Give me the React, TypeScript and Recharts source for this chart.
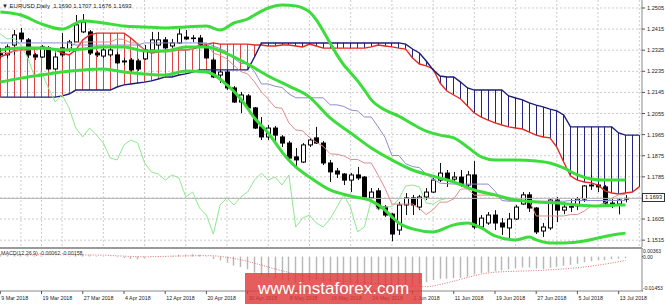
import React from 'react';
import { ComposedChart, Bar, Line, XAxis, YAxis, CartesianGrid, ReferenceLine } from 'recharts';

// ---------- tick labels ----------
const dateIdx = [0, 6, 12, 18, 24, 30, 36, 42, 48, 54, 60, 66, 72, 78, 84, 90];
const dateLabels = ['9 Mar 2018', '19 Mar 2018', '27 Mar 2018', '4 Apr 2018', '12 Apr 2018', '20 Apr 2018', '30 Apr 2018', '8 May 2018', '16 May 2018', '24 May 2018', '1 Jun 2018', '11 Jun 2018', '19 Jun 2018', '27 Jun 2018', '5 Jul 2018', '13 Jul 2018'];
const priceTicks = [1.2505, 1.2415, 1.2325, 1.2235, 1.2145, 1.2055, 1.1965, 1.1875, 1.1785, 1.1695, 1.1605, 1.1515];
const gridIdx = [0, 3, 6, 9, 12, 15, 18, 21, 24, 27, 30, 33, 36, 39, 42, 45, 48, 51, 54, 57, 60, 63, 66, 69, 72, 75, 78, 81, 84, 87, 90, 93];
const bidPrice = 1.1693;
const macdAxisVals = [0.00363, 0, -0.01453];
const macdAxisLabels = ['0.00363', '0.00', '-0.01453'];

// ---------- candles (EURUSD daily) ----------
const openP = [1.2310,1.2305,1.2347,1.2398,1.2369,1.2305,1.2296,1.2335,1.2245,1.2335,
 1.2326,1.2360,1.2403,1.2403,1.2313,1.2300,1.2305,1.2305,1.2279,1.2283,
 1.2279,1.2288,1.2326,1.2347,1.2369,1.2343,1.2356,1.2381,1.2377,1.2377,
 1.2343,1.2283,1.2219,1.2232,1.2164,1.2104,1.2130,1.2079,1.1998,1.1955,
 1.1993,1.1955,1.1929,1.1870,1.1848,1.1921,1.1951,1.1929,1.1844,1.1810,
 1.1797,1.1771,1.1793,1.1784,1.1695,1.1725,1.1656,1.1626,1.1558,1.1665,
 1.1695,1.1656,1.1699,1.1720,1.1771,1.1801,1.1775,1.1784,1.1750,1.1793,
 1.1571,1.1588,1.1622,1.1588,1.1567,1.1605,1.1669,1.1708,1.1652,1.1554,
 1.1567,1.1686,1.1643,1.1656,1.1661,1.1690,1.1746,1.1750,1.1742,1.1673,
 1.1669,1.1690];
const highP = [1.2335,1.2350,1.2411,1.2420,1.2377,1.2313,1.2347,1.2343,1.2313,1.2398,
 1.2369,1.2475,1.2479,1.2411,1.2322,1.2335,1.2335,1.2317,1.2292,1.2292,
 1.2288,1.2347,1.2403,1.2403,1.2381,1.2373,1.2420,1.2411,1.2390,1.2390,
 1.2352,1.2292,1.2241,1.2241,1.2172,1.2147,1.2138,1.2083,1.2040,1.2006,
 1.2002,1.1963,1.1938,1.1908,1.1929,1.1951,1.1998,1.1938,1.1857,1.1823,
 1.1801,1.1801,1.1827,1.1788,1.1737,1.1737,1.1665,1.1631,1.1678,1.1716,
 1.1708,1.1708,1.1737,1.1780,1.1844,1.1814,1.1806,1.1814,1.1810,1.1852,
 1.1622,1.1635,1.1643,1.1609,1.1631,1.1665,1.1720,1.1720,1.1656,1.1588,
 1.1690,1.1699,1.1678,1.1690,1.1699,1.1750,1.1793,1.1759,1.1750,1.1690,
 1.1695,1.1707];
const lowP = [1.2290,1.2290,1.2305,1.2360,1.2292,1.2283,1.2292,1.2240,1.2241,1.2296,
 1.2317,1.2356,1.2398,1.2305,1.2296,1.2292,1.2296,1.2266,1.2262,1.2232,
 1.2236,1.2283,1.2322,1.2326,1.2330,1.2335,1.2352,1.2369,1.2360,1.2343,
 1.2288,1.2206,1.2185,1.2155,1.2100,1.2057,1.2070,1.1989,1.1942,1.1942,
 1.1921,1.1912,1.1857,1.1823,1.1844,1.1912,1.1925,1.1835,1.1763,1.1780,
 1.1750,1.1720,1.1771,1.1690,1.1690,1.1643,1.1614,1.1510,1.1537,1.1622,
 1.1622,1.1643,1.1686,1.1716,1.1763,1.1742,1.1767,1.1742,1.1737,1.1562,
 1.1562,1.1580,1.1558,1.1537,1.1516,1.1601,1.1665,1.1635,1.1541,1.1528,
 1.1558,1.1592,1.1626,1.1635,1.1643,1.1678,1.1729,1.1720,1.1665,1.1652,
 1.1625,1.1676];
const closeP = [1.2305,1.2339,1.2390,1.2373,1.2305,1.2296,1.2339,1.2245,1.2296,1.2305,
 1.2360,1.2433,1.2445,1.2313,1.2305,1.2326,1.2326,1.2271,1.2275,1.2241,
 1.2245,1.2326,1.2369,1.2369,1.2335,1.2356,1.2394,1.2373,1.2375,1.2347,
 1.2292,1.2211,1.2232,1.2164,1.2104,1.2134,1.2079,1.1993,1.1955,1.1993,
 1.1963,1.1929,1.1865,1.1857,1.1921,1.1942,1.1929,1.1844,1.1806,1.1797,
 1.1771,1.1793,1.1780,1.1699,1.1720,1.1652,1.1622,1.1541,1.1665,1.1695,
 1.1665,1.1699,1.1720,1.1771,1.1801,1.1771,1.1784,1.1750,1.1793,1.1571,
 1.1609,1.1622,1.1588,1.1571,1.1605,1.1656,1.1708,1.1652,1.1550,1.1571,
 1.1686,1.1643,1.1656,1.1658,1.1690,1.1746,1.1750,1.1742,1.1673,1.1669,
 1.1686,1.1693];

// ---------- Ichimoku ----------
const tenkan = [1.2315,1.2315,1.2320,1.2325,1.2325,1.2330,1.2330,1.2330,1.2330,1.2330,
 1.2330,1.2358,1.2360,1.2360,1.2360,1.2360,1.2360,1.2373,1.2371,1.2356,
 1.2356,1.2322,1.2318,1.2318,1.2318,1.2318,1.2326,1.2326,1.2328,1.2352,
 1.2354,1.2313,1.2303,1.2288,1.2260,1.2234,1.2224,1.2190,1.2147,1.2117,
 1.2081,1.2077,1.2015,1.1985,1.1981,1.1953,1.1932,1.1915,1.1883,1.1881,
 1.1874,1.1859,1.1859,1.1844,1.1844,1.1791,1.1736,1.1669,1.1669,1.1669,
 1.1669,1.1649,1.1624,1.1645,1.1677,1.1677,1.1691,1.1733,1.1733,1.1707,
 1.1707,1.1707,1.1705,1.1695,1.1684,1.1684,1.1684,1.1684,1.1618,1.1618,
 1.1618,1.1618,1.1618,1.1624,1.1624,1.1639,1.1661,1.1661,1.1676,1.1693,
 1.1709,1.1709];
const kijun = [1.2356,1.2356,1.2356,1.2356,1.2356,1.2356,1.2356,1.2356,1.2356,1.2356,
 1.2356,1.2347,1.2347,1.2347,1.2347,1.2347,1.2347,1.2347,1.2347,1.2347,
 1.2347,1.2356,1.2356,1.2356,1.2356,1.2356,1.2356,1.2356,1.2356,1.2356,
 1.2356,1.2343,1.2332,1.2317,1.2290,1.2268,1.2268,1.2234,1.2181,1.2181,
 1.2171,1.2166,1.2139,1.2122,1.2122,1.2122,1.2122,1.2122,1.2092,1.2092,
 1.2085,1.2070,1.2066,1.2040,1.2040,1.1998,1.1953,1.1876,1.1876,1.1841,
 1.1829,1.1824,1.1797,1.1775,1.1758,1.1756,1.1754,1.1754,1.1754,1.1754,
 1.1754,1.1754,1.1724,1.1684,1.1681,1.1681,1.1681,1.1681,1.1681,1.1681,
 1.1681,1.1681,1.1681,1.1684,1.1684,1.1684,1.1684,1.1684,1.1684,1.1684,
 1.1684,1.1684];
const chikou = [1.2394,1.2373,1.2375,1.2347,1.2292,1.2211,1.2232,1.2164,1.2104,1.2134,
 1.2079,1.1993,1.1955,1.1993,1.1963,1.1929,1.1865,1.1857,1.1921,1.1942,
 1.1929,1.1844,1.1806,1.1797,1.1771,1.1793,1.1780,1.1699,1.1720,1.1652,
 1.1622,1.1541,1.1665,1.1695,1.1665,1.1699,1.1720,1.1771,1.1801,1.1771,
 1.1784,1.1750,1.1793,1.1571,1.1609,1.1622,1.1588,1.1571,1.1605,1.1656,
 1.1708,1.1652,1.1550,1.1571,1.1686,1.1643,1.1656,1.1658,1.1690,1.1746,
 1.1750,1.1742,1.1673,1.1669,1.1686,1.1693];
const spanA = [1.2296,1.2309,1.2322,1.2326,1.2330,1.2330,1.2334,1.2334,1.2326,1.2313,
 1.2305,1.2326,1.2369,1.2390,1.2398,1.2398,1.2398,1.2398,1.2398,1.2377,
 1.2351,1.2326,1.2313,1.2317,1.2326,1.2326,1.2326,1.2326,1.2330,1.2339,
 1.2351,1.2356,1.2351,1.2351,1.2351,1.2351,1.2351,1.2347,1.2347,1.2343,
 1.2343,1.2347,1.2347,1.2343,1.2339,1.2351,1.2343,1.2334,1.2334,1.2334,
 1.2334,1.2334,1.2334,1.2334,1.2339,1.2347,1.2343,1.2339,1.2334,1.2330,
 1.2292,1.2266,1.2258,1.2245,1.2185,1.2151,1.2134,1.2117,1.2087,1.2057,
 1.2040,1.2027,1.2015,1.2006,1.1998,1.1993,1.1989,1.1976,1.1963,1.1955,
 1.1951,1.1912,1.1848,1.1788,1.1771,1.1763,1.1759,1.1750,1.1725,1.1716,
 1.1712,1.1716,1.1720,1.1742];
const spanB = [1.2125,1.2125,1.2125,1.2125,1.2125,1.2125,1.2125,1.2125,1.2125,1.2130,
 1.2138,1.2155,1.2155,1.2155,1.2155,1.2155,1.2155,1.2168,1.2177,1.2181,
 1.2185,1.2189,1.2194,1.2202,1.2211,1.2211,1.2219,1.2224,1.2232,1.2241,
 1.2241,1.2241,1.2241,1.2241,1.2241,1.2241,1.2241,1.2296,1.2356,1.2356,
 1.2356,1.2356,1.2356,1.2356,1.2356,1.2356,1.2356,1.2356,1.2356,1.2356,
 1.2356,1.2356,1.2356,1.2356,1.2356,1.2356,1.2356,1.2356,1.2356,1.2351,
 1.2330,1.2313,1.2279,1.2241,1.2215,1.2211,1.2211,1.2189,1.2164,1.2155,
 1.2155,1.2155,1.2155,1.2155,1.2130,1.2121,1.2113,1.2100,1.2091,1.2083,
 1.2074,1.2066,1.2049,1.1998,1.1998,1.1998,1.1998,1.1998,1.1998,1.1998,
 1.1972,1.1963,1.1963,1.1963];

// ---------- Bollinger bands (read at sample bars) ----------
const bbUpIdx = [0,3,6,9,12,15,18,21,24,27,30,32,34,36,37,39,41,43,44,45,46,47,48,49,50,51,52,53,54,56,58,60,62,64,66,68,70,72,75,78,80,82,84,86,88,91];
const bbUp = [1.2488,1.2475,1.2437,1.2415,1.2450,1.2441,1.2428,1.2424,1.2420,1.2424,1.2428,1.2411,1.2441,1.2458,1.2475,1.2505,1.2518,1.2514,1.2505,1.2488,1.2454,1.2407,1.2356,1.2305,1.2262,1.2228,1.2194,1.2155,1.2113,1.2070,1.2044,1.2010,1.1980,1.1963,1.1951,1.1912,1.1870,1.1857,1.1857,1.1852,1.1844,1.1823,1.1793,1.1776,1.1771,1.1771];
const bbMidIdx = [0,3,6,9,12,15,18,21,24,27,30,33,36,39,42,45,48,51,54,57,60,63,66,69,72,75,78,81,84,87,90,91];
const bbMid = [1.2326,1.2334,1.2334,1.2326,1.2330,1.2339,1.2339,1.2322,1.2322,1.2339,1.2339,1.2309,1.2266,1.2215,1.2172,1.2125,1.2036,1.1972,1.1908,1.1857,1.1814,1.1788,1.1763,1.1729,1.1708,1.1686,1.1678,1.1673,1.1665,1.1661,1.1665,1.1665];
const bbLowIdx = [0,3,6,9,12,15,18,21,24,27,30,33,35,37,39,41,43,45,48,51,54,56,57,58,60,63,66,68,70,72,75,77,78,80,82,85,87,90,91];
const bbLow = [1.2189,1.2206,1.2219,1.2232,1.2241,1.2245,1.2232,1.2224,1.2219,1.2236,1.2232,1.2177,1.2117,1.2036,1.1972,1.1891,1.1827,1.1784,1.1729,1.1703,1.1682,1.1643,1.1614,1.1588,1.1563,1.1550,1.1580,1.1588,1.1567,1.1533,1.1516,1.1528,1.1516,1.1503,1.1503,1.1511,1.1524,1.1541,1.1545];

// ---------- MACD(12,26,9) ----------
const macdHist = [0.0006,0.0007,0.0009,0.0009,0.0006,0.0004,0.0004,0.0000,-0.0001,0.0000,
 0.0002,0.0008,0.0011,0.0006,0.0003,0.0002,0.0001,-0.0003,-0.0006,-0.0010,
 -0.0012,-0.0008,-0.0002,0.0002,0.0002,0.0004,0.0008,0.0009,0.0010,0.0008,
 0.0002,-0.0010,-0.0016,-0.0026,-0.0038,-0.0044,-0.0054,-0.0068,-0.0080,-0.0085,
 -0.0092,-0.0097,-0.0105,-0.0110,-0.0107,-0.0102,-0.0099,-0.0104,-0.0110,-0.0114,
 -0.0118,-0.0117,-0.0116,-0.0122,-0.0124,-0.0130,-0.0136,-0.0145,-0.0138,-0.0130,
 -0.0124,-0.0116,-0.0108,-0.0099,-0.0094,-0.0093,-0.0091,-0.0090,-0.0085,-0.0075,
 -0.0070,-0.0066,-0.0062,-0.0058,-0.0054,-0.0050,-0.0046,-0.0046,-0.0050,-0.0052,
 -0.0047,-0.0043,-0.0039,-0.0035,-0.0030,-0.0024,-0.0019,-0.0016,-0.0014,-0.0011,
 -0.0008,-0.0006];
const signalIdx = [0,6,12,15,18,21,24,27,30,32,34,36,38,40,42,44,46,48,51,54,57,60,62,64,66,68,70,72,75,78,81,84,87,89,91];
const signalVals = [0.0008,0.0008,0.0007,0.0006,0.0002,-0.0001,0.0001,0.0003,0.0004,0.0001,-0.0008,-0.0020,-0.0036,-0.0052,-0.0067,-0.0080,-0.0090,-0.0098,-0.0106,-0.0112,-0.0120,-0.0127,-0.0127,-0.0118,-0.0104,-0.0088,-0.0074,-0.0066,-0.0062,-0.0059,-0.0054,-0.0047,-0.0036,-0.0027,-0.0016];

// ---------- assembled tables ----------
const at = (arr: number[], i: number) => (i < arr.length ? arr[i] : null);
const fromIdx = (idx: number[], vals: number[], i: number) => { const k = idx.indexOf(i); return k >= 0 ? vals[k] : null; };
const N = spanA.length;
const mainData: any[] = [];
for (let i = 0; i < N; i++) {
  const o = at(openP, i), h = at(highP, i), l = at(lowP, i), c = at(closeP, i);
  const a = spanA[i], b = spanB[i];
  mainData.push({
    i, o, h, l, c,
    candle: l != null && h != null ? [l, h] : null,
    a, b, cloud: [Math.min(a, b), Math.max(a, b)],
    ten: at(tenkan, i), kij: at(kijun, i), chi: at(chikou, i),
    up: fromIdx(bbUpIdx, bbUp, i), mid: fromIdx(bbMidIdx, bbMid, i), low: fromIdx(bbLowIdx, bbLow, i),
  });
}
const macdData = macdHist.map((v, i) => ({ i, v, hist: [Math.min(v, 0), Math.max(v, 0)], sig: fromIdx(signalIdx, signalVals, i) }));

const FONT = '"Liberation Sans", Arial, sans-serif';
const W = 665;
const XDOM: [number, number] = [-0.044, 93.4];
const YDOM: [number, number] = [1.14857, 1.25391];
const MDOM: [number, number] = [-0.01453, 0.00363];
const GRID = '#cccccc';

function Candle(props: any) {
  const { x, y, width, height, payload } = props;
  if (x == null || y == null || !payload || payload.h == null) return null;
  const { o, h, l, c } = payload;
  const span = h - l || 1e-9;
  const py = (p: number) => y + ((h - p) / span) * height;
  const cx = Math.round(x + width / 2) + 0.5;
  const top = py(Math.max(o, c));
  const bot = py(Math.min(o, c));
  const bull = c >= o;
  return (
    <g>
      <line x1={cx} x2={cx} y1={y} y2={y + height} stroke="#111" strokeWidth={1} />
      <rect x={cx - 2} y={top} width={4} height={Math.max(bot - top, 0.6)} fill={bull ? '#ffffff' : '#000000'} stroke="#000" strokeWidth={1} />
    </g>
  );
}

function Hatch(props: any) {
  const { x, y, width, height, payload } = props;
  if (x == null || y == null || !payload) return null;
  const cx = Math.round(x + width / 2) + 0.5;
  const col = payload.a >= payload.b ? '#dc4444' : '#24247f';
  return <line x1={cx} x2={cx} y1={y} y2={y + height} stroke={col} strokeWidth={1} />;
}

function HistBar(props: any) {
  const { x, y, width, height } = props;
  if (x == null || y == null) return null;
  const cx = Math.round(x + width / 2) + 0.5;
  return <line x1={cx} x2={cx} y1={y} y2={y + height} stroke="#b8b8b8" strokeWidth={1.5} />;
}

function PriceTick(props: any) {
  const { x, y, payload } = props;
  if (Math.abs(payload.value - 1.1695) < 0.0001) return null;
  return (
    <text x={x} y={y} dy={2} fontSize={5.6} fontFamily={FONT} fill="#222" textAnchor="start">
      {Number(payload.value).toFixed(4)}
    </text>
  );
}

function MacdTick(props: any) {
  const { x, y, payload } = props;
  const k = macdAxisVals.indexOf(payload.value);
  if (k < 0) return null;
  const dy = k === 0 ? 4.5 : k === 1 ? 2 : -1;
  return (
    <text x={x} y={y} dy={dy} fontSize={5} fontFamily={FONT} fill="#222" textAnchor="start">
      {macdAxisLabels[k]}
    </text>
  );
}

function DateTick(props: any) {
  const { x, y, payload } = props;
  const k = dateIdx.indexOf(payload.value);
  if (k < 0) return null;
  return (
    <text x={x + 1} y={y} dy={4.5} fontSize={5.3} fontFamily={FONT} fill="#222" textAnchor="start">
      {dateLabels[k]}
    </text>
  );
}

export default function App() {
  const lineProps = { xAxisId: 'c', yAxisId: 'p', dot: false, activeDot: false, isAnimationActive: false, connectNulls: true } as any;
  return (
    <div style={{ position: 'fixed', left: 0, top: 0, width: W, height: 304, background: '#fff', overflow: 'hidden', fontFamily: FONT }}>
      <div style={{ position: 'absolute', left: 0, top: 0 }}>
        <ComposedChart width={W} height={247} data={mainData} margin={{ top: 0, right: 0, bottom: 0, left: 0 }}>
          <XAxis xAxisId="c" type="number" dataKey="i" domain={XDOM} allowDataOverflow hide />
          <XAxis xAxisId="k" type="number" dataKey="i" domain={XDOM} allowDataOverflow hide />
          <YAxis yAxisId="p" orientation="right" width={23} type="number" domain={YDOM} allowDataOverflow ticks={priceTicks}
            tick={<PriceTick />} tickSize={3} tickMargin={2} tickLine={{ stroke: '#555' }} axisLine={{ stroke: '#8a8a8a' }} interval={0} />
          <CartesianGrid xAxisId="c" yAxisId="p" stroke={GRID} strokeDasharray="2 2" verticalValues={gridIdx} horizontalValues={priceTicks} />
          <Bar xAxisId="k" yAxisId="p" dataKey="cloud" barSize={4} shape={<Hatch />} isAnimationActive={false} />
          <Line {...lineProps} dataKey="a" type="linear" stroke="#e32a22" strokeWidth={1.4} />
          <Line {...lineProps} dataKey="b" type="linear" stroke="#1c1c7a" strokeWidth={1.4} />
          <ReferenceLine xAxisId="c" yAxisId="p" y={bidPrice} stroke="#b4b4b4" strokeWidth={1} />
          <Line {...lineProps} dataKey="chi" type="linear" stroke="#8fe88f" strokeWidth={1} />
          <Line {...lineProps} dataKey="ten" type="linear" stroke="#e08c8c" strokeWidth={1} />
          <Line {...lineProps} dataKey="kij" type="linear" stroke="#8c8cd2" strokeWidth={1} />
          <Bar xAxisId="c" yAxisId="p" dataKey="candle" barSize={5} shape={<Candle />} isAnimationActive={false} />
          <Line {...lineProps} dataKey="up" type="monotone" stroke="#3ddc3d" strokeWidth={3} />
          <Line {...lineProps} dataKey="mid" type="monotone" stroke="#3ddc3d" strokeWidth={3} />
          <Line {...lineProps} dataKey="low" type="monotone" stroke="#3ddc3d" strokeWidth={3} />
        </ComposedChart>
      </div>
      <div style={{ position: 'absolute', left: 0, top: 248 }}>
        <ComposedChart width={W} height={56} data={macdData} margin={{ top: 0, right: 0, bottom: 0, left: 0 }}>
          <XAxis xAxisId="m" type="number" dataKey="i" domain={XDOM} allowDataOverflow ticks={dateIdx} interval={0}
            tick={<DateTick />} tickSize={3} tickMargin={1} tickLine={{ stroke: '#555' }} axisLine={{ stroke: '#8a8a8a' }} height={13} />
          <YAxis yAxisId="m" orientation="right" width={23} type="number" domain={MDOM} allowDataOverflow ticks={macdAxisVals} interval={0}
            tick={<MacdTick />} tickSize={1} tickMargin={0} tickLine={{ stroke: '#555' }} axisLine={{ stroke: '#8a8a8a' }} />
          <Bar xAxisId="m" yAxisId="m" dataKey="hist" barSize={2} shape={<HistBar />} isAnimationActive={false} />
          <Line xAxisId="m" yAxisId="m" dataKey="sig" type="monotone" stroke="#e07070" strokeWidth={1} strokeDasharray="1 1.5" dot={false} activeDot={false} connectNulls isAnimationActive={false} />
        </ComposedChart>
      </div>
      <div style={{ position: 'absolute', left: 0, top: 247, width: 642, height: 2, background: '#9a9a9a' }} />
      <div style={{ position: 'absolute', left: 2, top: 2, fontSize: 6, lineHeight: '8px', color: '#222', whiteSpace: 'nowrap' }}>
        ▼ EURUSD,Daily&nbsp; 1.1690 1.1707 1.1676 1.1693
      </div>
      <div style={{ position: 'absolute', left: 1, top: 250, fontSize: 5.3, lineHeight: '7px', color: '#333', whiteSpace: 'nowrap' }}>
        MACD(12,26,9) -0.00062 -0.00158
      </div>
      <div style={{ position: 'absolute', left: 642, top: 193, width: 23, height: 9, background: '#fff', border: '1px solid #333', boxSizing: 'border-box', fontSize: 5.6, lineHeight: '7px', textAlign: 'center', color: '#111' }}>
        1.1693
      </div>
      <div style={{ position: 'absolute', left: 245, top: 273, width: 177, height: 31, background: 'rgba(222,58,58,0.82)', color: '#fff', fontSize: 17, lineHeight: '31px', textAlign: 'center', whiteSpace: 'nowrap', fontFamily: '"Liberation Sans", Arial, sans-serif' }}>
        www.instaforex.com
      </div>
    </div>
  );
}
